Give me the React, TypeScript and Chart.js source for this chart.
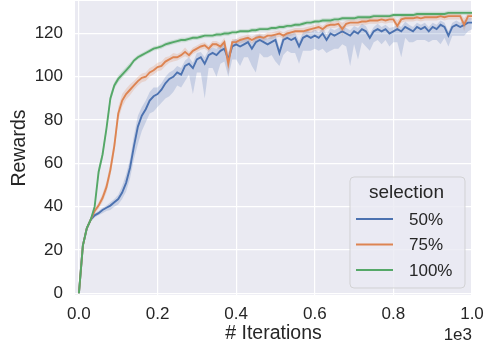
import React, { useEffect, useRef } from "react";
import { Chart, registerables } from "chart.js";

Chart.register(...registerables);

const iterations = [
  0, 10, 20, 30, 40, 50, 60, 70, 80, 90, 100, 110, 120, 130, 140, 150, 160, 170, 180, 190,
  200, 210, 220, 230, 240, 250, 260, 270, 280, 290, 300, 310, 320, 330, 340, 350, 360, 370, 380, 390,
  400, 410, 420, 430, 440, 450, 460, 470, 480, 490, 500, 510, 520, 530, 540, 550, 560, 570, 580, 590,
  600, 610, 620, 630, 640, 650, 660, 670, 680, 690, 700, 710, 720, 730, 740, 750, 760, 770, 780, 790,
  800, 810, 820, 830, 840, 850, 860, 870, 880, 890, 900, 910, 920, 930, 940, 950, 960, 970, 980, 990,
  1000,
];
const xTicks = [0, 200, 400, 600, 800, 1000];
const yTicks = [0, 20, 40, 60, 80, 100, 120];
const seriesNames = ["50%", "75%", "100%"];
const seriesColors = ["#4C72B0", "#DD8452", "#55A868"];

// 50%
const blueMean = [
  0, 22, 30, 34, 36, 37, 38.5, 39.5, 40.5, 42, 43.5,
  46.5, 51, 58, 68, 77, 82, 85, 89, 91, 92,
  94, 97, 99, 100, 102, 101, 105, 106, 104, 108,
  109, 106, 110, 111, 110, 112, 113, 108, 114, 115,
  114, 115, 116, 113, 116, 117, 116, 115, 116, 117,
  111, 117, 118, 117, 118, 114, 118, 119, 118, 119,
  118, 120, 117, 120, 119, 120, 121, 120, 119, 121,
  120, 122, 121, 118, 121, 122, 121, 122, 120, 121,
  122, 121, 123, 122, 121, 123, 122, 123, 121, 123,
  122, 124, 123, 119, 123, 124, 123, 124, 125, 125,
];
const blueBandLow = [
  0, 1, 1, 1, 1, 1, 1.5, 1.5, 2, 2, 2.5,
  3, 4, 5, 6, 8, 7, 6, 6, 7, 6, 6, 7, 8, 7, 6,
  6, 7, 5, 12, 6, 7, 16, 6, 7, 10,
  6, 6, 8, 6, 7, 9, 6, 7, 8, 14,
  6, 7, 6, 6, 10, 6, 7, 6, 6, 7,
  8, 6, 7, 6, 6, 6, 7, 6, 8, 6,
  7, 6, 6, 14, 6, 12, 6, 7, 6, 5,
  5, 6, 5, 6, 5, 6, 12, 5, 6, 5,
  6, 5, 6, 5, 6, 5, 9, 5, 5, 4,
  5, 4, 5, 4, 3,
];
const blueBandHigh = [
  0, 1, 1, 1, 1, 1, 1, 1, 1.5, 1.5, 2,
  3, 4, 4, 5, 5, 4, 4, 4, 4, 3, 3, 3, 3, 3, 3,
  3, 2.5, 3, 2.5, 3, 2.5, 3, 2.5, 2.5, 3,
  2.5, 2.5, 3, 2.5, 2.5, 2.5, 3, 2.5, 2.5, 3,
  2.5, 2.5, 2.5, 3, 2.5, 2.5, 2.5, 2.5, 3, 2.5,
  2.5, 2.5, 2.5, 2.5, 3, 2.5, 2.5, 2.5, 2.5, 2.5,
  2.5, 2.5, 2.5, 2.5, 2.5, 2.5, 2.5, 2.5, 2, 2,
  2.5, 2, 2, 2.5, 2, 2, 2, 2.5, 2, 2,
  2, 2, 2, 2, 2, 2, 2, 2, 2, 2,
  2, 2, 2, 2, 2,
];

// 75%
const orangeMean = [
  0, 22, 30, 34, 38, 40.5, 44, 49, 57, 68, 83,
  89, 92, 94, 96, 98, 99.5, 100, 102, 103, 104.5,
  105, 107, 108, 109, 109, 110, 111.5, 110, 112, 113,
  114, 114.5, 113, 115, 115, 114, 116, 106, 116, 116,
  117, 117.5, 118, 117, 118, 118.5, 118, 119, 119, 119.5,
  120, 119, 120, 120.5, 121, 121, 121, 121.5, 122, 122.5,
  123, 122, 123.5, 124, 124, 124.5, 122, 124.5, 125, 125,
  125, 125.5, 125.5, 126, 126, 126, 126.5, 126, 126.5, 126.5,
  123.5, 126.5, 127, 127, 127, 127.5, 127, 127.5, 127.5, 127.5,
  127.5, 128, 127.5, 128, 128, 128, 128, 124, 128, 128,
];
const orangeBand = [
  0, 1, 1, 1, 1, 1.5, 2, 2.5, 3, 3, 3,
  3, 2.5, 2.5, 2, 2, 2, 2, 2, 2, 2,
  2, 2, 1.5, 2, 1.5, 1.5, 2, 1.5, 1.5, 1.5,
  1.5, 1.5, 1.5, 1.5, 1.5, 1.5, 2, 5, 1.5, 1.5,
  1.5, 1.5, 1.5, 1.5, 1.5, 1.5, 1.5, 1.5, 1.5, 1.5,
  1.5, 1.5, 1.5, 1.5, 1.5, 1.5, 1.5, 1.5, 1.5, 1.5,
  1.5, 1.5, 1.5, 1.5, 1.5, 1.5, 3, 1.5, 1.5, 1.5,
  1.5, 1.5, 1.5, 1.5, 1.5, 1.5, 1.5, 1.5, 1.5, 1.5,
  2.5, 1.5, 1.5, 1.5, 1.5, 1.5, 1.5, 1.5, 1.5, 1.5,
  1.5, 1.5, 1.5, 1.5, 1.5, 1.5, 1.5, 3, 1.5, 1.5,
];

// 100%
const greenMean = [
  0, 22, 30, 34, 40, 56, 64, 76, 90, 96, 99,
  101, 103, 105, 107.5, 109, 110, 111, 112, 113, 113.5,
  114, 115, 115.5, 116, 116.5, 117, 117, 117.5, 118, 118,
  118.5, 119, 119, 119, 119.5, 119.5, 120, 120, 120.5, 120.5,
  121, 121, 121, 121.5, 121.5, 122, 122, 122, 122.5, 122.5,
  123, 123, 123.5, 123.5, 124, 124, 124.5, 125, 125, 125.5,
  125.5, 126, 126, 126, 126.5, 126.5, 127, 127, 127, 127,
  127.5, 127.5, 127.5, 127.5, 128, 128, 128, 128, 128, 128.5,
  128.5, 128.5, 128.5, 128.5, 128.5, 129, 129, 129, 129, 129,
  129, 129, 129, 129.5, 129.5, 129.5, 129.5, 129.5, 129.5, 129.5,
];
const greenBand = [
  0, 1, 1, 1, 1.5, 2, 2, 2, 2, 1.5, 1.5,
  1.5, 1.5, 1.5, 1, 1, 1, 1, 1, 1, 1,
  1, 1, 1, 1, 1, 1, 1, 1, 1, 1,
  1, 1, 1, 1, 1, 1, 1, 1, 1, 1,
  1, 1, 1, 1, 1, 1, 1, 1, 1, 1,
  1, 1, 1, 1, 1, 1, 1, 1, 1, 1,
  1, 1, 1, 1, 1, 1, 1, 1, 1, 1,
  1, 1, 1, 1, 1, 1, 1, 1, 1, 1,
  1, 1, 1, 1, 1, 1, 1, 1, 1, 1,
  1, 1, 1, 1, 1, 1, 1, 1, 1, 1,
];

const TEXT = "#262626";
const FONT = "'Liberation Sans', Arial, sans-serif";

function rgba(hex: string, a: number) {
  const n = parseInt(hex.slice(1), 16);
  return `rgba(${(n >> 16) & 255},${(n >> 8) & 255},${n & 255},${a})`;
}

function pts(vals: number[]) {
  return vals.map((v, i) => ({ x: iterations[i], y: v }));
}

export default function App() {
  const ref = useRef<HTMLCanvasElement>(null);

  useEffect(() => {
    if (!ref.current) return;
    const means = [blueMean, orangeMean, greenMean];
    const lows = [blueBandLow, orangeBand, greenBand];
    const highs = [blueBandHigh, orangeBand, greenBand];

    const datasets: any[] = [];
    means.forEach((m, k) => {
      const c = seriesColors[k];
      datasets.push({
        label: seriesNames[k] + " upper",
        data: pts(m.map((v, i) => v + highs[k][i])),
        borderWidth: 0,
        borderColor: "transparent",
        pointRadius: 0,
        fill: "+1",
        backgroundColor: rgba(c, 0.22),
        order: 10,
      });
      datasets.push({
        label: seriesNames[k] + " lower",
        data: pts(m.map((v, i) => v - lows[k][i])),
        borderWidth: 0,
        borderColor: "transparent",
        pointRadius: 0,
        fill: false,
        order: 10,
      });
    });
    means.forEach((m, k) => {
      datasets.push({
        label: seriesNames[k],
        data: pts(m),
        borderColor: seriesColors[k],
        borderWidth: 1.9,
        pointRadius: 0,
        fill: false,
        order: 3 - k,
      });
    });

    const bgPlugin = {
      id: "bg",
      beforeDraw(chart: any) {
        const { ctx, chartArea: a } = chart;
        ctx.save();
        ctx.fillStyle = "#EAEAF2";
        ctx.fillRect(a.left, a.top, a.right - a.left, a.bottom - a.top);
        ctx.restore();
      },
    };

    const overlay = {
      id: "overlay",
      afterDraw(chart: any) {
        const { ctx, chartArea: a } = chart;
        ctx.save();
        const w = 115;
        const h = 111;
        const x0 = a.right - 7 - w;
        const y0 = a.bottom - 7 - h;
        const r = 4;
        ctx.beginPath();
        ctx.moveTo(x0 + r, y0);
        ctx.arcTo(x0 + w, y0, x0 + w, y0 + h, r);
        ctx.arcTo(x0 + w, y0 + h, x0, y0 + h, r);
        ctx.arcTo(x0, y0 + h, x0, y0, r);
        ctx.arcTo(x0, y0, x0 + w, y0, r);
        ctx.closePath();
        ctx.fillStyle = "rgba(234,234,242,0.8)";
        ctx.fill();
        ctx.strokeStyle = "rgba(204,204,204,0.8)";
        ctx.lineWidth = 1;
        ctx.stroke();

        ctx.fillStyle = TEXT;
        ctx.textBaseline = "middle";
        ctx.textAlign = "center";
        ctx.font = `19px ${FONT}`;
        ctx.fillText("selection", x0 + w / 2 - 1, y0 + 16);

        ctx.textAlign = "left";
        ctx.font = `17px ${FONT}`;
        seriesNames.forEach((name, k) => {
          const yy = y0 + 42 + k * 25.5;
          ctx.strokeStyle = seriesColors[k];
          ctx.lineWidth = 2;
          ctx.beginPath();
          ctx.moveTo(x0 + 6, yy);
          ctx.lineTo(x0 + 43, yy);
          ctx.stroke();
          ctx.fillStyle = TEXT;
          ctx.fillText(name, x0 + 59, yy + 1);
        });

        ctx.textAlign = "right";
        ctx.font = `17px ${FONT}`;
        ctx.fillStyle = TEXT;
        ctx.fillText("1e3", a.right, 335);
        ctx.restore();
      },
    };

    const chart = new Chart(ref.current, {
      type: "line",
      data: { datasets },
      plugins: [bgPlugin, overlay],
      options: {
        animation: false,
        responsive: true,
        maintainAspectRatio: false,
        layout: { padding: { top: 1, right: 15, left: 0, bottom: 0 } },
        plugins: {
          legend: { display: false },
          tooltip: { enabled: false },
        },
        elements: { line: { tension: 0 } },
        scales: {
          x: {
            type: "linear",
            min: -10,
            max: 1000,
            afterBuildTicks: (s: any) => {
              s.ticks = xTicks.map((v) => ({ value: v }));
            },
            afterFit: (s: any) => {
              s.height = 50;
              s.paddingLeft = 0;
              s.paddingRight = 0;
            },
            ticks: {
              callback: (v: any) => (Number(v) / 1000).toFixed(1),
              color: TEXT,
              font: { size: 17, family: FONT },
              padding: 9,
              maxRotation: 0,
              autoSkip: false,
            },
            grid: { color: "#ffffff", lineWidth: 1.2, drawTicks: false },
            border: { display: false },
            title: {
              display: true,
              text: "# Iterations",
              color: TEXT,
              font: { size: 19.5, family: FONT },
              padding: { top: 0, bottom: 0 },
            },
          },
          y: {
            type: "linear",
            min: -0.8,
            max: 135,
            afterBuildTicks: (s: any) => {
              s.ticks = yTicks.map((v) => ({ value: v }));
            },
            afterFit: (s: any) => {
              s.width = 75;
              s.paddingTop = 0;
              s.paddingBottom = 0;
            },
            ticks: {
              color: TEXT,
              font: { size: 17, family: FONT },
              padding: 12,
            },
            grid: { color: "#ffffff", lineWidth: 1.2, drawTicks: false },
            border: { display: false },
            title: {
              display: true,
              text: "Rewards",
              color: TEXT,
              font: { size: 19.5, family: FONT },
              padding: { top: 8, bottom: 0 },
            },
          },
        },
      } as any,
    });
    return () => chart.destroy();
  }, []);

  return (
    <div style={{ position: "fixed", left: 0, top: 0, width: 487, height: 345, background: "#fff" }}>
      <canvas ref={ref} />
    </div>
  );
}
